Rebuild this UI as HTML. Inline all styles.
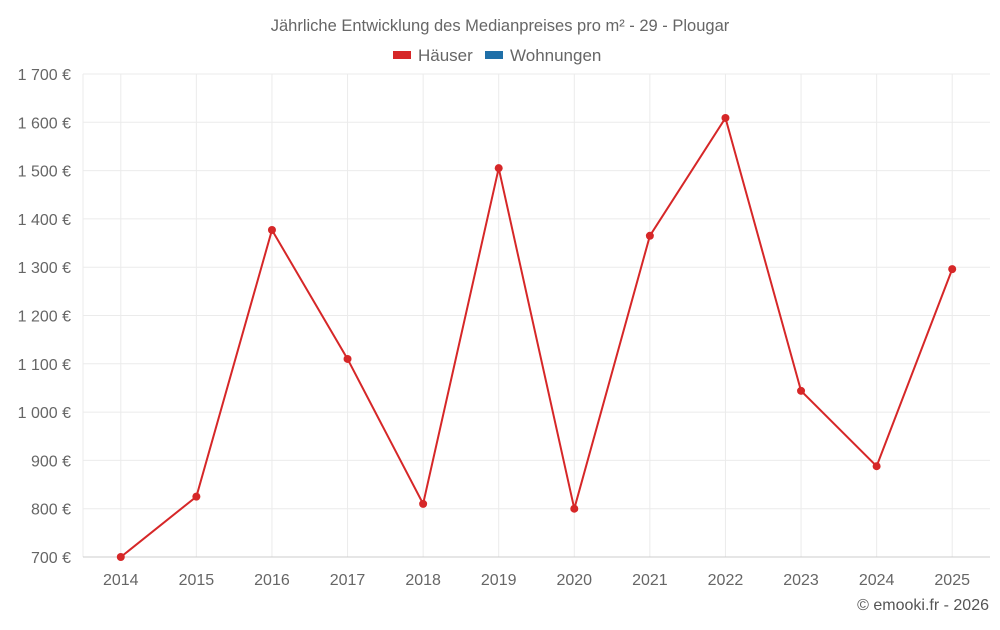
<!DOCTYPE html>
<html><head><meta charset="utf-8"><style>
body{margin:0;background:#fff;font-family:"Liberation Sans",sans-serif;}
svg text{font-family:"Liberation Sans",sans-serif;}
</style></head><body>
<svg id="c" width="1000" height="625"></svg>
<script>
const years=["2014","2015","2016","2017","2018","2019","2020","2021","2022","2023","2024","2025"];
const haeuser=[700,825,1377,1110,810,1505,800,1365,1609,1044,888,1296];
const yTicks=[700,800,900,1000,1100,1200,1300,1400,1500,1600,1700];
const yTickLabels=["700 €","800 €","900 €","1 000 €","1 100 €","1 200 €","1 300 €","1 400 €","1 500 €","1 600 €","1 700 €"];
const NS="http://www.w3.org/2000/svg";
const svg=document.getElementById('c');
const L=83,R=990,T=74,B=557,yMin=700,yMax=1700;
const step=(R-L)/years.length;
function x(i){return L+step*(i+0.5);}
function y(v){return B-(v-yMin)/(yMax-yMin)*(B-T);}
function mk(tag,attrs,parent){const e=document.createElementNS(NS,tag);for(const k in attrs)e.setAttribute(k,attrs[k]);(parent||svg).appendChild(e);return e;}
const lg=mk('line',{x1:L,x2:L,y1:T,y2:B,stroke:'#ebebeb','stroke-width':1});


years.forEach((yr,i)=>{
  const g=mk('line',{x1:x(i),x2:x(i),y1:T,y2:B,stroke:'#ebebeb','stroke-width':1});
  
  
});
yTicks.forEach((v,i)=>{
  const g=mk('line',{x1:L,x2:R,y1:y(v),y2:y(v),stroke:i===0?'#ccc':'#ebebeb','stroke-width':1});
  
  
  const t=mk('text',{x:71,y:y(v)+6,'text-anchor':'end','font-size':16,fill:'#666'});
  t.textContent=yTickLabels[i];
  
  
});
years.forEach((yr,i)=>{
  const t=mk('text',{x:x(i),y:585,'text-anchor':'middle','font-size':16,fill:'#666'});
  t.textContent=yr;
  
  
});
const p=mk('polyline',{points:haeuser.map((v,i)=>x(i)+','+y(v)).join(' '),fill:'none',stroke:'#d62728','stroke-width':2});


haeuser.forEach((v,i)=>{
  const c=mk('circle',{cx:x(i),cy:y(v),r:4,fill:'#d62728'});
  
  
});
const ti=mk('text',{x:500,y:31,'text-anchor':'middle','font-size':16.5,fill:'#666'});
ti.textContent="Jährliche Entwicklung des Medianpreises pro m² - 29 - Plougar";


const r1=mk('rect',{x:393,y:51,width:18,height:8,fill:'#d62728'});


const l1=mk('text',{x:418,y:61,'font-size':17,fill:'#666'});l1.textContent="Häuser";


const r2=mk('rect',{x:485,y:51,width:18,height:8,fill:'#1f6fa8'});


const l2=mk('text',{x:510,y:61,'font-size':17,fill:'#666'});l2.textContent="Wohnungen";


const cr=mk('text',{x:989,y:610,'text-anchor':'end','font-size':16,fill:'#555'});
cr.textContent="© emooki.fr - 2026";


</script>
</body></html>
